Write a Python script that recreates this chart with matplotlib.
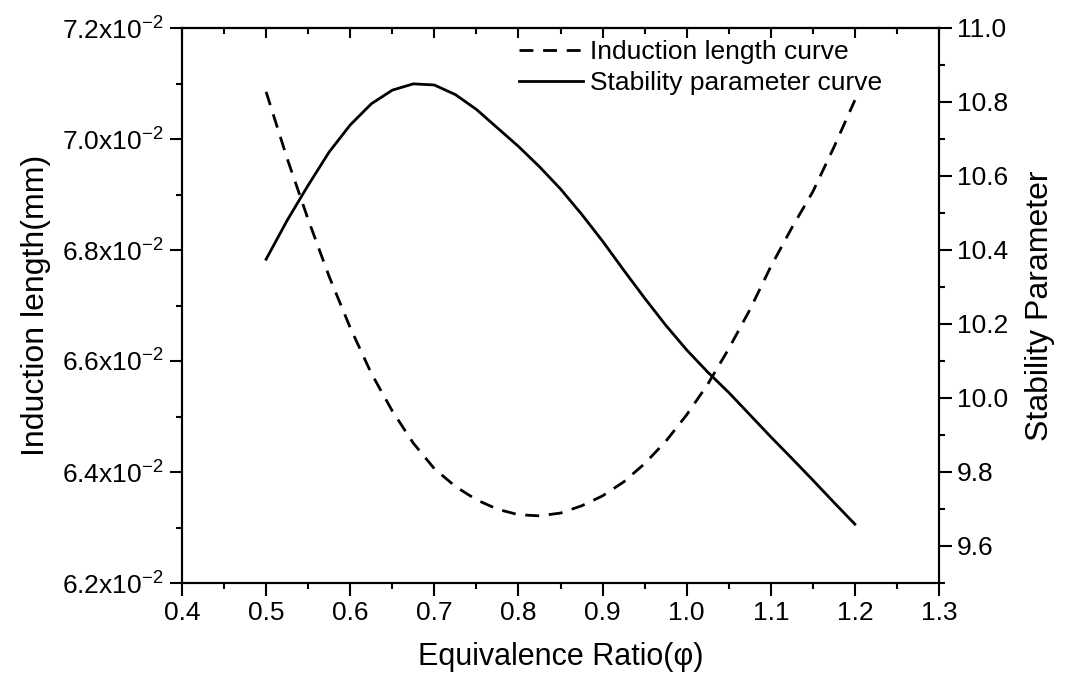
import matplotlib
matplotlib.use("Agg")
import matplotlib.pyplot as plt
from matplotlib.ticker import MultipleLocator, FuncFormatter

plt.rcParams["font.family"] = ["Liberation Sans", "DejaVu Sans"]
plt.rcParams["mathtext.fontset"] = "custom"
plt.rcParams["mathtext.rm"] = "Liberation Sans"

# equivalence ratio
phi = [0.500, 0.525, 0.550, 0.575, 0.600, 0.625, 0.650, 0.675, 0.700, 0.725,
       0.750, 0.775, 0.800, 0.825, 0.850, 0.875, 0.900, 0.925, 0.950, 0.975,
       1.000, 1.025, 1.050, 1.075, 1.100, 1.125, 1.150, 1.175, 1.200]
# induction length (mm)
induction = [7.085e-2, 6.965e-2, 6.855e-2, 6.752e-2, 6.660e-2, 6.578e-2,
             6.510e-2, 6.452e-2, 6.406e-2, 6.374e-2, 6.350e-2, 6.333e-2,
             6.323e-2, 6.321e-2, 6.326e-2, 6.339e-2, 6.357e-2, 6.382e-2,
             6.415e-2, 6.455e-2, 6.503e-2, 6.558e-2, 6.622e-2, 6.692e-2,
             6.770e-2, 6.840e-2, 6.905e-2, 6.985e-2, 7.070e-2]
# stability parameter
stability = [10.375, 10.480, 10.575, 10.665, 10.738, 10.795, 10.832, 10.849,
             10.846, 10.820, 10.780, 10.730, 10.680, 10.625, 10.565, 10.497,
             10.424, 10.346, 10.270, 10.197, 10.130, 10.070, 10.015, 9.955,
             9.895, 9.837, 9.778, 9.718, 9.659]

fig = plt.figure(figsize=(10.73, 6.89), dpi=100)
ax = fig.add_axes([182 / 1073, 1 - 583 / 689, (939 - 182) / 1073, (583 - 28) / 689])
ax2 = ax.twinx()

l1, = ax.plot(phi, induction, color="black", lw=2.0, dashes=(5, 3.5),
              label="Induction length curve")
l2, = ax2.plot(phi, stability, color="black", lw=2.0, label="Stability parameter curve")

ax.set_xlim(0.4, 1.3)
ax.set_ylim(6.2e-2, 7.2e-2)
ax2.set_ylim(9.5, 11.0)

ax.xaxis.set_major_locator(MultipleLocator(0.1))
ax.xaxis.set_minor_locator(MultipleLocator(0.05))
ax.yaxis.set_major_locator(MultipleLocator(0.2e-2))
ax.yaxis.set_minor_locator(MultipleLocator(0.1e-2))
ax2.yaxis.set_major_locator(MultipleLocator(0.2))
ax2.yaxis.set_minor_locator(MultipleLocator(0.1))

ax.xaxis.set_major_formatter(FuncFormatter(lambda v, p: f"{v:.1f}"))
ax.yaxis.set_major_formatter(
    FuncFormatter(lambda v, p: r"$\mathregular{%.1fx10^{-2}}$" % (v * 100)))
ax2.yaxis.set_major_formatter(FuncFormatter(lambda v, p: f"{v:.1f}"))

for a in (ax, ax2):
    for s in a.spines.values():
        s.set_linewidth(1.5)
ax.tick_params(which="major", direction="out", length=9, width=1.5, labelsize=19, pad=4)
ax.tick_params(which="minor", direction="out", length=4.5, width=1.5)
ax2.tick_params(which="major", direction="out", length=9, width=1.5, labelsize=19, pad=4)
ax2.tick_params(which="minor", direction="out", length=4.5, width=1.5)

top = ax.secondary_xaxis("top")
top.xaxis.set_major_locator(MultipleLocator(0.1))
top.xaxis.set_minor_locator(MultipleLocator(0.05))
top.tick_params(which="major", direction="in", length=7, width=1.5, labeltop=False)
top.tick_params(which="minor", direction="in", length=4, width=1.5)
top.spines["top"].set_linewidth(1.5)

ax.set_xlabel("Equivalence Ratio(φ)", fontsize=22, labelpad=12)
ax.set_ylabel("Induction length(mm)", fontsize=23, labelpad=8)
ax2.set_ylabel("Stability Parameter", fontsize=23, labelpad=12)

ax2.legend(handles=[l1, l2], loc="upper left", bbox_to_anchor=(0.442, 0.983),
           frameon=False, fontsize=19, handlelength=2.4, handletextpad=0.28,
           labelspacing=0.28, borderaxespad=0.0, borderpad=0.1)

fig.savefig("out.png", dpi=100)
